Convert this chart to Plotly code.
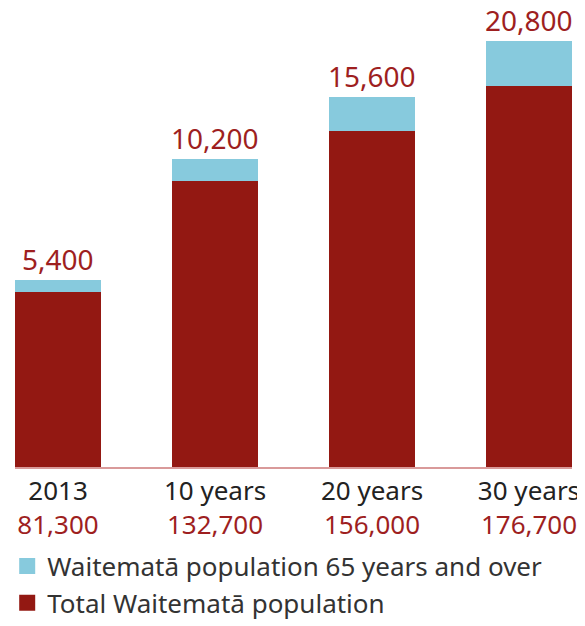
import plotly.graph_objects as go

categories = ["2013", "10 years", "20 years", "30 years"]
total_pop = [81300, 132700, 156000, 176700]
senior_pop = [5400, 10200, 15600, 20800]
series_names = ["Waitematā population 65 years and over", "Total Waitematā population"]

RED = "#931812"
BLUE = "#87CADD"
TXT_RED = "#9E1F1F"
FONT = "Noto Sans"

x = list(range(len(categories)))
fig = go.Figure()
fig.add_trace(go.Bar(x=x, y=total_pop, marker=dict(color=RED, line_width=0), width=0.55,
                     showlegend=False, hoverinfo="skip"))
fig.add_trace(go.Bar(x=x, y=senior_pop, marker=dict(color=BLUE, line_width=0), width=0.55,
                     showlegend=False, hoverinfo="skip"))
# legend entries
fig.add_trace(go.Scatter(x=[None], y=[None], mode="markers", name=series_names[0], legendgroup="a",
                         marker=dict(symbol="square", size=16, color=BLUE)))
fig.add_trace(go.Scatter(x=[None], y=[None], mode="markers", name=series_names[1], legendgroup="b",
                         marker=dict(symbol="square", size=16, color=RED)))

for i, (t, s) in enumerate(zip(total_pop, senior_pop)):
    fig.add_annotation(x=i, y=t + s, text=f"{s:,}", showarrow=False, yanchor="bottom",
                       yshift=0, font=dict(family=FONT, size=28, color=TXT_RED))

ticktext = [f"{c}<br><span style='color:{TXT_RED}'>{t:,}</span>" for c, t in zip(categories, total_pop)]

# page body has an 8px margin; figure sized to fit the remaining viewport
fig.update_layout(
    width=577, height=618,
    margin=dict(l=7, r=13, t=28, b=159, autoexpand=False),
    plot_bgcolor="white", paper_bgcolor="white",
    barmode="stack", bargap=0,
    font=dict(family=FONT, color="#222222"),
    xaxis=dict(range=[-0.274, 3.274], tickvals=x, ticktext=ticktext, showgrid=False, automargin=False,
               showline=True, linecolor="#D99A9A", linewidth=2, ticks="", zeroline=False,
               tickfont=dict(size=26, family=FONT, color="#222222")),
    yaxis=dict(range=[0, 200000], visible=False, showgrid=False, zeroline=False, automargin=False),
    legend=dict(x=-0.014, xanchor="left", y=0.135, yanchor="top", yref="container",
                traceorder="normal", tracegroupgap=6,
                font=dict(size=26, family=FONT, color="#333333"), bgcolor="rgba(0,0,0,0)",
                itemwidth=30),
)
fig.write_html("out.html")
